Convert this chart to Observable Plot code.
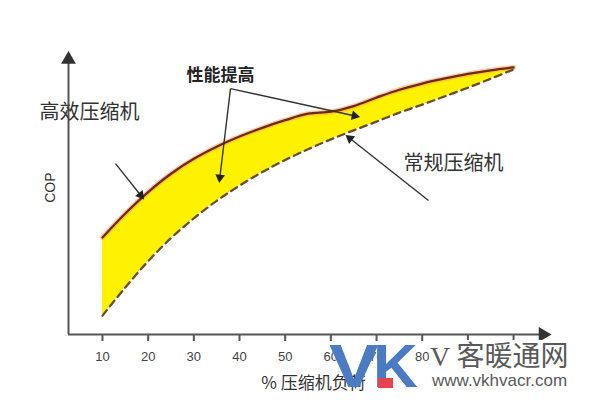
<!DOCTYPE html>
<html>
<head>
<meta charset="utf-8">
<script src="https://cdn.jsdelivr.net/npm/d3@7"></script>
<script src="https://cdn.jsdelivr.net/npm/@observablehq/plot@0.6"></script>
<style>
  html, body { margin: 0; padding: 0; background: #fff; }
  #wrap { position: relative; width: 600px; height: 416px; overflow: hidden; font-family: "Noto Sans CJK SC", "Noto Sans", sans-serif; }
  .wm { position: absolute; white-space: nowrap; }
</style>
</head>
<body>
<div id="wrap">
  <div id="chart"></div>
  <div class="wm" style="left:429px;top:340px;width:146px;height:54px;background:#fff;"></div>
  <div class="wm" style="left:329px;top:335px;font:bold 62px/1 'Liberation Sans',Arial,sans-serif;color:#4a7bc3;transform:scaleX(1.2);transform-origin:left top;">V</div>
  <div class="wm" style="left:373px;top:335px;font:bold 62px/1 'Liberation Sans',Arial,sans-serif;color:#4a7bc3;">K</div>
  <div class="wm" style="left:378px;top:378px;width:15px;height:10px;background:#e8414f;"></div>
  <div class="wm" style="left:430px;top:340px;font:28px/1 'Noto Sans CJK SC',sans-serif;color:#5a5a5a;"><span style="font-family:'Liberation Serif',serif;">V</span> 客暖通网</div>
  <div class="wm" style="left:432px;top:372px;font:17px/1 'Liberation Sans',Arial,sans-serif;color:#5a5a5a;">www.vkhvacr.com</div>
</div>
<script>
// % compressor load
const load = [10, 15, 20, 25, 30, 35, 40, 45, 50, 55, 60, 65, 70, 75, 80, 85, 90, 95, 100];
// COP, high-efficiency compressor (solid)
const highCOP = [3.44, 4.29, 5.05, 5.70, 6.23, 6.66, 7.02, 7.33, 7.60, 7.83, 7.90, 8.10, 8.40, 8.68, 8.90, 9.08, 9.24, 9.37, 9.47];
// COP, conventional compressor (dashed)
const stdCOP = [0.67, 1.67, 2.60, 3.42, 4.12, 4.74, 5.28, 5.76, 6.19, 6.57, 6.92, 7.24, 7.55, 7.87, 8.15, 8.45, 8.75, 9.07, 9.40];
const xTicks = [10, 20, 30, 40, 50, 60, 70, 80, 90, 100];

const data = load.map((l, i) => ({load: l, high: highCOP[i], std: stdCOP[i]}));

const xMin = 2.56, xMax = 107.65, yMin = 0, yMax = 10;
const pxPerX = 480 / (xMax - xMin), pxPerY = 282 / (yMax - yMin);
const axisColor = "#555";
const txt = "#333";
const cjk = "Noto Sans CJK SC";
const latin = "Liberation Sans, Arial, sans-serif";

const pointers = [
  {x1: 12.85, y1: 6.06, x2: 18.76, y2: 4.86},
  {x1: 38.03, y1: 8.72, x2: 35.62, y2: 5.46},
  {x1: 38.03, y1: 8.72, x2: 65.84, y2: 7.73},
  {x1: 81.38, y1: 4.75, x2: 63.65, y2: 7.02}
];
// filled arrowheads: rotation from the direction in pixel space, pulled back slightly from the tip
const heads = pointers.map(p => {
  const dx = (p.x2 - p.x1) * pxPerX, dy = -(p.y2 - p.y1) * pxPerY;
  const len = Math.hypot(dx, dy);
  const back = 3;
  return {
    x: p.x2 - (dx / len) * back / pxPerX,
    y: p.y2 + (dy / len) * back / pxPerY,
    rotate: Math.atan2(dx, -dy) * 180 / Math.PI
  };
});

const chart = Plot.plot({
  width: 600,
  height: 416,
  marginLeft: 68,
  marginRight: 52,
  marginTop: 52,
  marginBottom: 82,
  style: {background: "transparent", fontFamily: cjk},
  x: {domain: [xMin, xMax]},
  y: {domain: [yMin, yMax], axis: null},
  marks: [
    Plot.areaY(data, {x: "load", y1: "std", y2: "high", fill: "#fff200", curve: "catmull-rom"}),
    Plot.line(data, {x: "load", y: "high", stroke: "#f4a060", strokeOpacity: 0.55, strokeWidth: 5, curve: "catmull-rom"}),
    Plot.line(data, {x: "load", y: "high", stroke: "#722812", strokeWidth: 2.3, curve: "catmull-rom"}),
    Plot.line(data, {x: "load", y: "std", stroke: "#6b4e2a", strokeWidth: 2.3, strokeDasharray: "7,5", curve: "catmull-rom"}),
    // axes
    Plot.ruleY([yMin], {x1: xMin, x2: xMax - 1.2, stroke: axisColor, strokeWidth: 2}),
    Plot.ruleX([xMin], {y1: yMin, y2: yMax - 0.2, stroke: axisColor, strokeWidth: 2}),
    Plot.dot([{x: xMax - 1.2, y: yMin}], {x: "x", y: "y", symbol: "triangle", r: 5.5, fill: "#333", rotate: 90}),
    Plot.dot([{x: xMin, y: yMax - 0.25}], {x: "x", y: "y", symbol: "triangle", r: 5.5, fill: "#333"}),
    Plot.axisX({ticks: xTicks, tickSize: 7, tickPadding: 10, fontSize: 13, stroke: axisColor, strokeWidth: 2, fill: "#444", label: null, fontFamily: latin}),
    Plot.text(["COP"], {x: -1.39, y: 5.21, rotate: -90, fontSize: 14, fill: txt, fontFamily: latin}),
    Plot.text(["% 压缩机负荷"], {x: 56.2, y: -1.74, fontSize: 17, fill: txt}),
    // annotations
    Plot.link(pointers, {x1: "x1", y1: "y1", x2: "x2", y2: "y2", stroke: "#333", strokeWidth: 1.4}),
    Plot.dot(heads, {x: "x", y: "y", rotate: "rotate", symbol: "triangle", r: 3.6, fill: "#222"}),
    Plot.text(["高效压缩机"], {x: 7.15, y: 7.87, fontSize: 20, fill: txt}),
    Plot.text(["常规压缩机"], {x: 86.86, y: 6.06, fontSize: 20, fill: txt}),
    Plot.text(["性能提高"], {x: 35.84, y: 9.18, fontSize: 17, fontWeight: "bold", fill: "#222"})
  ]
});
document.getElementById("chart").appendChild(chart);
</script>
</body>
</html>
